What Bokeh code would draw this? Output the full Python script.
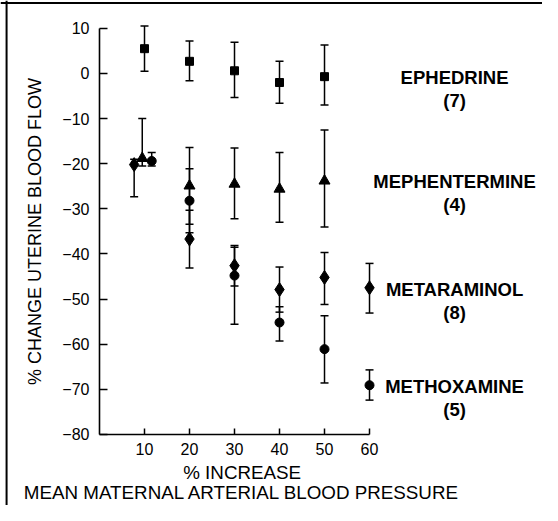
from bokeh.plotting import figure
from bokeh.models import Range1d, Whisker, ColumnDataSource, TeeHead, FixedTicker, Span
from bokeh.core.properties import value
from bokeh.embed import file_html
from bokeh.resources import INLINE

# ---------------- data ----------------
X_TICKS = [10, 20, 30, 40, 50, 60]
X_TICK_LABELS = ["10", "20", "30", "40", "50", "60"]
Y_TICKS = [10, 0, -10, -20, -30, -40, -50, -60, -70, -80]
Y_TICK_LABELS = ["10", "0", "\u221210", "\u221220", "\u221230", "\u221240",
                 "\u221250", "\u221260", "\u221270", "\u221280"]

DRUGS = ["EPHEDRINE", "MEPHENTERMINE", "METARAMINOL", "METHOXAMINE"]
N_ANIMALS = [7, 4, 8, 5]

# Ephedrine (squares)
EPH_X = [10, 20, 30, 40, 50]
EPH_Y = [5.5, 2.7, 0.6, -2.0, -0.7]
EPH_LO = [0.5, -1.6, -5.3, -6.6, -7.0]
EPH_HI = [10.5, 7.2, 6.9, 2.7, 6.3]

# Mephentermine (triangles)
MEP_X = [9.5, 20, 30, 40, 50]
MEP_Y = [-18.8, -24.9, -24.5, -25.6, -23.8]
MEP_LO = [-20.5, -33.4, -32.2, -33.0, -34.0]
MEP_HI = [-10.0, -16.4, -16.5, -17.5, -12.5]

# Metaraminol (diamonds)
MET_X = [7.7, 20, 30, 40, 50, 60]
MET_Y = [-20.2, -36.7, -42.6, -47.9, -45.2, -47.5]
MET_LO = [-27.3, -43.1, -47.1, -52.9, -51.2, -53.1]
MET_HI = [-19.0, -30.3, -38.1, -42.9, -39.7, -42.1]

# Methoxamine (circles)
MTX_X = [11.6, 20, 30, 40, 50, 60]
MTX_Y = [-19.4, -28.2, -44.8, -55.2, -61.1, -69.1]
MTX_LO = [-20.5, -35.3, -55.6, -59.3, -68.6, -72.4]
MTX_HI = [-17.5, -21.1, -38.5, -51.7, -53.7, -65.7]

X_TITLE = "% INCREASE"
X_TITLE_2 = "MEAN MATERNAL ARTERIAL BLOOD PRESSURE"
Y_TITLE = "% CHANGE UTERINE BLOOD FLOW"

# ---------------- layout constants ----------------
FONT = "Liberation Sans"
LABEL_X = 78.9
LABEL_Y = [-3.5, -26.5, -50.4, -71.9]
XTITLE_X = 31.7
XTITLE_Y = [-88.4, -92.9]
BORDER_LEFT_X = -20.65
BORDER_TOP_Y = 15.6

p = figure(width=542, height=505,
           x_range=Range1d(-22, 98.44), y_range=Range1d(-95.76, 16.18),
           output_backend="svg", toolbar_location=None,
           min_border_left=0, min_border_right=0,
           min_border_top=0, min_border_bottom=0)

p.outline_line_color = None
p.xgrid.visible = False
p.ygrid.visible = False
p.background_fill_color = "white"
p.border_fill_color = "white"

for ax in (p.xaxis[0], p.yaxis[0]):
    ax.axis_line_width = 1.6
    ax.axis_line_color = "black"
    ax.major_tick_line_width = 1.5
    ax.major_tick_line_color = "black"
    ax.major_tick_out = 0
    ax.minor_tick_line_color = None
    ax.major_label_text_font = FONT
    ax.major_label_text_font_size = "16px"
    ax.major_label_text_color = "black"

xa = p.xaxis[0]
xa.fixed_location = -80
xa.bounds = (0, 60)
xa.ticker = FixedTicker(ticks=X_TICKS)
xa.major_label_overrides = {t: s for t, s in zip(X_TICKS, X_TICK_LABELS)}
xa.major_tick_in = 6
xa.major_label_standoff = 9

ya = p.yaxis[0]
ya.fixed_location = 0
ya.bounds = (-80, 10)
ya.ticker = FixedTicker(ticks=Y_TICKS)
ya.major_label_overrides = {t: s for t, s in zip(Y_TICKS, Y_TICK_LABELS)}
ya.major_tick_in = 8
ya.major_label_standoff = 10
ya.axis_label = Y_TITLE
ya.axis_label_text_font = FONT
ya.axis_label_text_font_size = "18px"
ya.axis_label_text_font_style = "normal"
ya.axis_label_text_color = "black"
ya.axis_label_standoff = 14

# scanned figure border (left and top edges only)
p.add_layout(Span(location=BORDER_LEFT_X, dimension="height",
                  line_color="black", line_width=2))
p.add_layout(Span(location=BORDER_TOP_Y, dimension="width",
                  line_color="black", line_width=2))

series = [
    (EPH_X, EPH_Y, EPH_LO, EPH_HI, "square", 8),
    (MEP_X, MEP_Y, MEP_LO, MEP_HI, "triangle", 11),
    (MET_X, MET_Y, MET_LO, MET_HI, "diamond", 14),
    (MTX_X, MTX_Y, MTX_LO, MTX_HI, "circle", 9),
]
for xs, ys, lo, hi, mk, sz in series:
    src = ColumnDataSource(dict(x=xs, y=ys, lo=lo, hi=hi))
    w = Whisker(source=src, base="x", lower="lo", upper="hi",
                line_width=1.5, line_color="black",
                upper_head=TeeHead(size=8, line_width=1.5, line_color="black"),
                lower_head=TeeHead(size=8, line_width=1.5, line_color="black"))
    p.add_layout(w)
    p.scatter("x", "y", source=src, marker=mk, size=sz,
              fill_color="black", line_color="black")

lab_src = ColumnDataSource(dict(
    x=[LABEL_X] * len(DRUGS), y=LABEL_Y,
    text=[f"{d}\n({n})" for d, n in zip(DRUGS, N_ANIMALS)]))
p.text("x", "y", text="text", source=lab_src,
       text_font=value(FONT), text_font_style="bold", text_font_size="18.5px",
       text_align="center", text_baseline="middle", text_line_height=1.08,
       text_color="black")

title_src = ColumnDataSource(dict(x=[XTITLE_X, XTITLE_X], y=XTITLE_Y,
                                  text=[X_TITLE, X_TITLE_2]))
p.text("x", "y", text="text", source=title_src,
       text_font=value(FONT), text_font_size="18.8px",
       text_align="center", text_baseline="middle", text_color="black")

open("out.html", "w").write(file_html(p, INLINE))
